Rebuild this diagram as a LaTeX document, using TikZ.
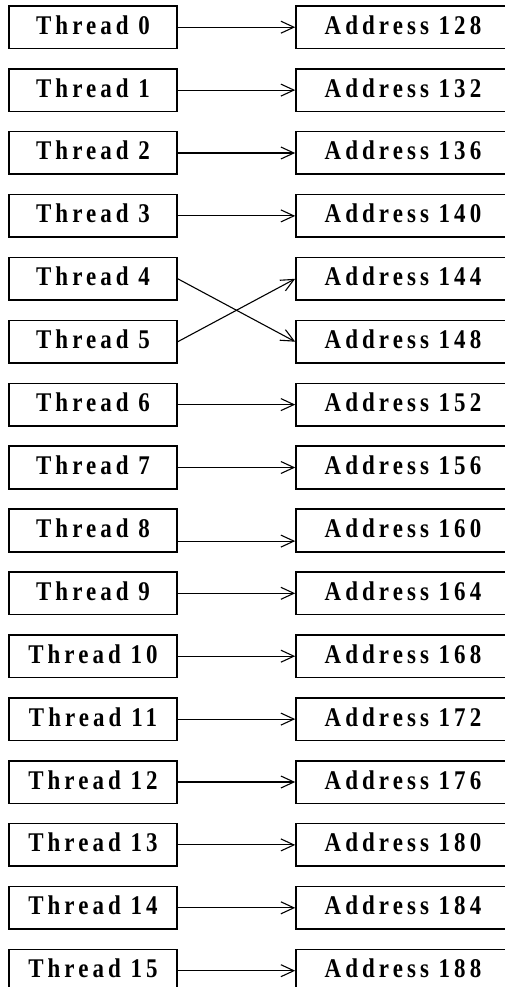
\documentclass[tikz,border=0pt]{standalone}
\usepackage{fontspec}
\usetikzlibrary{arrows.meta}
\newfontfamily\labfont[FakeStretch=0.85,LetterSpace=15]{Liberation Serif}
\tikzset{
  box/.style={draw=black, line width=1.6pt, inner sep=0pt, text height=21pt, text depth=7pt,
    minimum height=42.6pt, font=\labfont\bfseries\fontsize{27}{30}\selectfont},
  tbox/.style={box, minimum width=168pt},
  abox/.style={box, minimum width=214pt},
  link/.style={line width=1.1pt, -{Straight Barb[length=13pt,width=12pt,line width=1.1pt]}}
}
\begin{document}
\begin{tikzpicture}[x=1pt,y=-1pt]
\useasboundingbox (0,0) rectangle (505,987);
\clip (0,0) rectangle (505,987);
\foreach \i in {0,...,15}{
  \pgfmathsetmacro{\yy}{27.2+62.9*\i}
  \pgfmathtruncatemacro{\addr}{128+4*\i}
  \node[tbox] (t\i) at (93,\yy) {Thread \i};
  \node[abox] (a\i) at (403,\yy) {Address \addr};
}
\foreach \i in {0,1,2,3,6,7,9,10,11,12,13,14,15}{
  \draw[link] (t\i.east) -- (a\i.west);
}
\draw[link] (t4.east) -- (a5.west);
\draw[link] (t5.east) -- (a4.west);
\draw[link] ([yshift=-10.7pt]t8.east) -- ([yshift=-10.7pt]a8.west);
\end{tikzpicture}
\end{document}
